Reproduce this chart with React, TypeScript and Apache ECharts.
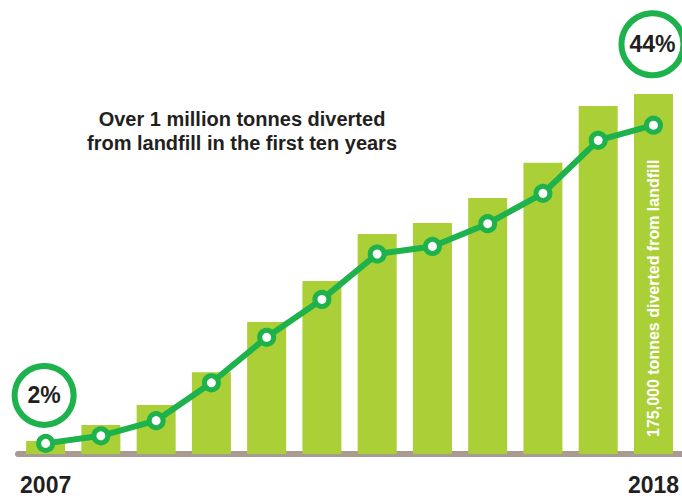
import React, { useEffect, useRef } from "react";
import * as echarts from "echarts";

const years = ["2007", "2008", "2009", "2010", "2011", "2012", "2013", "2014", "2015", "2016", "2017", "2018"];
// tonnes diverted from landfill per year
const tonnes = [6300, 14100, 23800, 39700, 64200, 84100, 106900, 112300, 124400, 141600, 169200, 175000];
// diversion rate, percent
const rates = [2, 3, 5, 10, 16, 21, 27, 28, 31, 35, 42, 44];
const titleLines = ["Over 1 million tonnes diverted", "from landfill in the first ten years"];
const lastBarNote = "175,000 tonnes diverted from landfill";

const LIME = "#abcf37";
const GREEN = "#1db24b";
const DARK = "#231f20";
const GREY = "#a89b8f";

export default function App() {
  const ref = useRef<HTMLDivElement>(null);
  useEffect(() => {
    if (!ref.current) return;
    const chart = echarts.init(ref.current, null, { renderer: "svg" });
    const last = years.length - 1;
    chart.setOption({
      animation: false,
      textStyle: { fontFamily: "Liberation Sans, Arial, sans-serif" },
      grid: { left: 18, right: 0, top: 42.6, bottom: 44, containLabel: false },
      graphic: [
        {
          type: "text",
          x: 242,
          y: 107,
          style: {
            text: titleLines.join("\n"),
            textAlign: "center",
            textVerticalAlign: "top",
            fontSize: 20,
            fontWeight: "bold",
            lineHeight: 24,
            fill: DARK,
            fontFamily: "Liberation Sans, Arial, sans-serif",
          },
        },
      ],
      xAxis: {
        type: "category",
        data: years,
        offset: 4,
        axisTick: { show: false },
        axisLine: { show: true, lineStyle: { color: GREY, width: 6 } },
        axisLabel: {
          interval: (i: number) => i === 0 || i === last,
          fontSize: 23,
          fontWeight: "bold",
          color: DARK,
          margin: 15,
        },
        splitLine: { show: false },
      },
      yAxis: [
        { type: "value", min: 0, max: 200000, show: false, splitLine: { show: false } },
        { type: "value", min: 0.6, max: 54.9, show: false, splitLine: { show: false } },
      ],
      series: [
        {
          type: "bar",
          yAxisIndex: 0,
          barWidth: 39,
          itemStyle: { color: LIME },
          data: tonnes.map((v, i) =>
            i === last
              ? {
                  value: v,
                  label: {
                    show: true,
                    position: "insideBottom",
                    distance: 17,
                    rotate: 90,
                    align: "left",
                    verticalAlign: "middle",
                    formatter: lastBarNote,
                    color: "#ffffff",
                    fontSize: 16,
                    fontWeight: "bold",
                  },
                }
              : v
          ),
          z: 2,
        },
        {
          type: "line",
          yAxisIndex: 1,
          data: rates,
          symbol: "circle",
          symbolSize: 14,
          lineStyle: { color: GREEN, width: 6 },
          itemStyle: { color: "#ffffff", borderColor: GREEN, borderWidth: 5 },
          z: 5,
          markPoint: {
            symbol: "circle",
            itemStyle: { color: "#ffffff", borderColor: GREEN, borderWidth: 6 },
            label: {
              show: true,
              position: "inside",
              formatter: "{c}%",
              fontSize: 23,
              fontWeight: "bold",
              color: DARK,
            },
            data: [
              { coord: [years[0], rates[0]], value: rates[0], symbolSize: 59, symbolOffset: [-1.5, -48] },
              { coord: [years[last], rates[last]], value: rates[last], symbolSize: 62, symbolOffset: [-1, -81] },
            ],
          },
        },
      ],
    });
    return () => chart.dispose();
  }, []);
  return (
    <div
      ref={ref}
      style={{ position: "absolute", left: 0, top: 0, width: 682, height: 498, background: "#ffffff" }}
    />
  );
}
